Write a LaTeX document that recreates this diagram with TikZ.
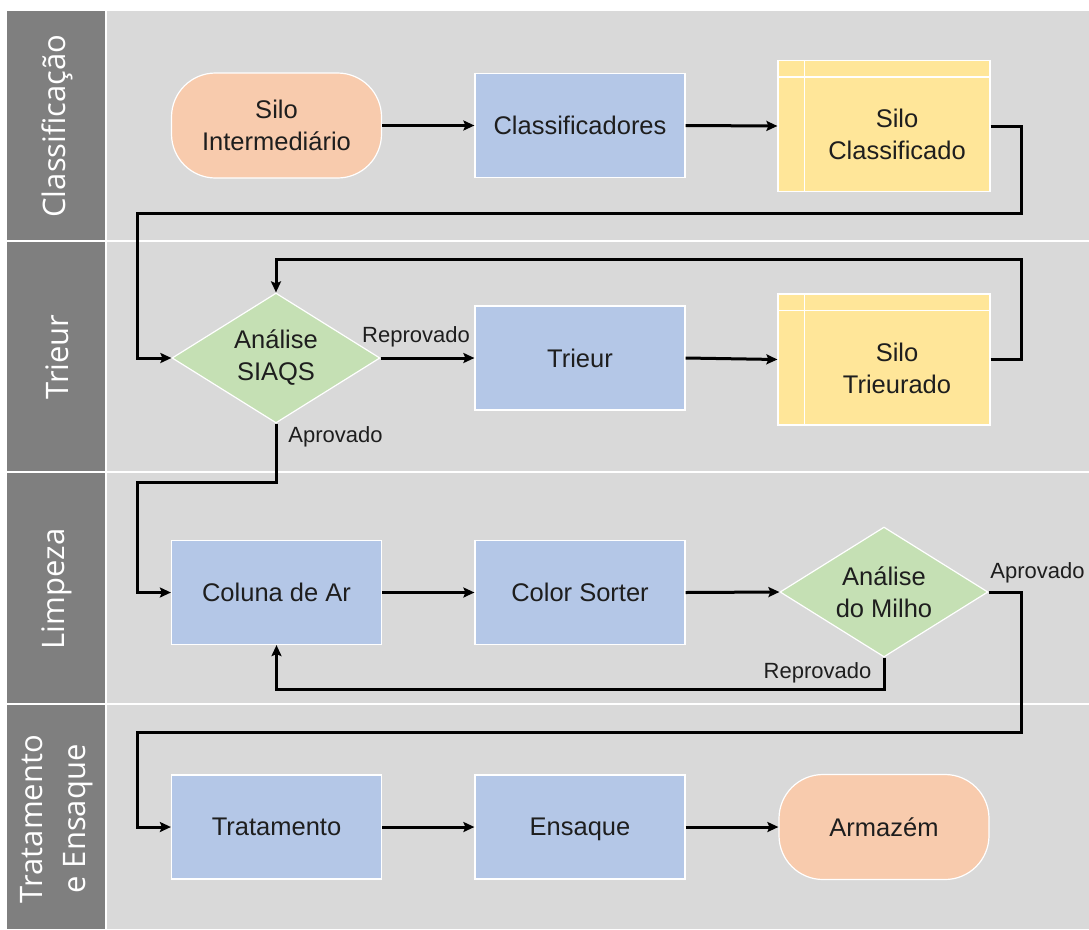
\documentclass[tikz,border=0pt]{standalone}
\usepackage{fontspec}
\setmainfont{Liberation Sans}
\newfontfamily\lanefont{Open Sans}
\usetikzlibrary{shapes.geometric,arrows.meta}

\definecolor{lanehead}{HTML}{7F7F7F}
\definecolor{lanebody}{HTML}{D9D9D9}
\definecolor{procblue}{HTML}{B4C7E7}
\definecolor{termorange}{HTML}{F8CBAD}
\definecolor{siloyellow}{HTML}{FFE699}
\definecolor{decgreen}{HTML}{C5E0B4}
\definecolor{ink}{HTML}{1E1E1E}

\tikzset{
  base/.style={draw=white, line width=1.2pt, text=ink, align=center, inner sep=0pt,
    font=\fontsize{25.5}{32}\selectfont},
  proc/.style={base, rectangle, fill=procblue, minimum width=210pt, minimum height=104pt,
    text depth=0pt},
  term/.style={base, rectangle, rounded corners=44pt, fill=termorange, minimum width=210pt, minimum height=105pt},
  silo/.style={base, rectangle, fill=siloyellow, minimum width=212pt, minimum height=131pt},
  decision/.style={base, diamond, aspect=1.6, fill=decgreen, minimum width=208pt, minimum height=130pt},
  silotext/.style={text=ink, align=center, inner sep=0pt, font=\fontsize{25.5}{32}\selectfont},
  edgelabel/.style={text=ink, inner sep=0pt, font=\fontsize{22}{26}\selectfont},
  lanetitle/.style={text=white, rotate=90, align=center, inner sep=0pt,
    font=\lanefont\fontsize{31}{43}\selectfont},
  flow/.style={line width=3pt, draw=black, -{Stealth[length=11pt,width=10pt,inset=2pt]}},
}

\begin{document}
\begin{tikzpicture}[x=1pt,y=-1pt]
  % page
  \fill[white] (0,0) rectangle (1089,929);
  \useasboundingbox (0,0) rectangle (1089,929);

  % swimlanes: headers and bodies
  \fill[lanehead] (7,11) rectangle (105,240);
  \fill[lanehead] (7,242) rectangle (105,471);
  \fill[lanehead] (7,473) rectangle (105,703);
  \fill[lanehead] (7,705) rectangle (105,929);
  \fill[lanebody] (107,11) rectangle (1089,240);
  \fill[lanebody] (107,242) rectangle (1089,471);
  \fill[lanebody] (107,473) rectangle (1089,703);
  \fill[lanebody] (107,705) rectangle (1089,929);

  \node[lanetitle] (hClass) at (57,126) {Classificação};
  \node[lanetitle] (hTrieur) at (57,357) {Trieur};
  \node[lanetitle] (hLimp) at (57,589) {Limpeza};
  \node[lanetitle] (hTrat) at (57,819) {Tratamento\\e Ensaque};

  % row 1: classification
  \node[term] (si) at (276.5,125.5) {Silo\\Intermediário};
  \node[proc] (cl) at (580,125.5) {Classificadores};
  \node[silo] (sc) at (884,126) {};
  \draw[white, line width=1.2pt] ([yshift=-17pt]sc.north west) -- ([yshift=-17pt]sc.north east);
  \draw[white, line width=1.2pt] ([xshift=27pt]sc.north west) -- ([xshift=27pt]sc.south west);
  \node[silotext] (sct) at (897,134) {Silo\\Classificado};

  % row 2: trieur
  \node[decision] (d1) at (276,358) {Análise\\SIAQS};
  \node[proc] (tr) at (580,358) {Trieur};
  \node[silo] (st) at (884,359.5) {};
  \draw[white, line width=1.2pt] ([yshift=-17pt]st.north west) -- ([yshift=-17pt]st.north east);
  \draw[white, line width=1.2pt] ([xshift=27pt]st.north west) -- ([xshift=27pt]st.south west);
  \node[silotext] (stt) at (897,368) {Silo\\Trieurado};

  % row 3: cleaning
  \node[proc] (ca) at (276.5,592.5) {Coluna de Ar};
  \node[proc] (cs) at (580,592.5) {Color Sorter};
  \node[decision] (d2) at (884,592) {Análise\\do Milho};

  % row 4: treatment and bagging
  \node[proc] (tt) at (276.5,827) {Tratamento};
  \node[proc] (en) at (580,827) {Ensaque};
  \node[term] (ar) at (884,827) {Armazém};

  % connector corners
  \coordinate (r1) at (1021,213);
  \coordinate (l1) at (137,213);
  \coordinate (r2) at (1021,259);
  \coordinate (l2) at (137,482);
  \coordinate (r3) at (1021,732);
  \coordinate (l3) at (137,732);
  \coordinate (b1) at (276.5,689);

  % connectors
  \draw[flow] (si.east) -- (cl.west);
  \draw[flow] (cl.east) -- (sc.west);
  \draw[flow] (sc.east) -| (r1) -- (l1) |- (d1.west);
  \draw[flow] (d1.east) -- (tr.west);
  \draw[flow] (tr.east) -- (st.west);
  \draw[flow] (st.east) -| (r2) -| (d1.north);
  \draw[flow] (d1.south) |- (l2) |- (ca.west);
  \draw[flow] (ca.east) -- (cs.west);
  \draw[flow] (cs.east) -- (d2.west);
  \draw[flow] (d2.east) -| (r3) -- (l3) |- (tt.west);
  \draw[flow] (d2.south) |- (b1) -- (ca.south);
  \draw[flow] (tt.east) -- (en.west);
  \draw[flow] (en.east) -- (ar.west);

  % branch labels
  \node[edgelabel] (lRep1) at (416,337) {Reprovado};
  \node[edgelabel] (lApr1) at (335.5,437) {Aprovado};
  \node[edgelabel] (lApr2) at (1037.5,573) {Aprovado};
  \node[edgelabel] (lRep2) at (817.5,673) {Reprovado};
\end{tikzpicture}
\end{document}
